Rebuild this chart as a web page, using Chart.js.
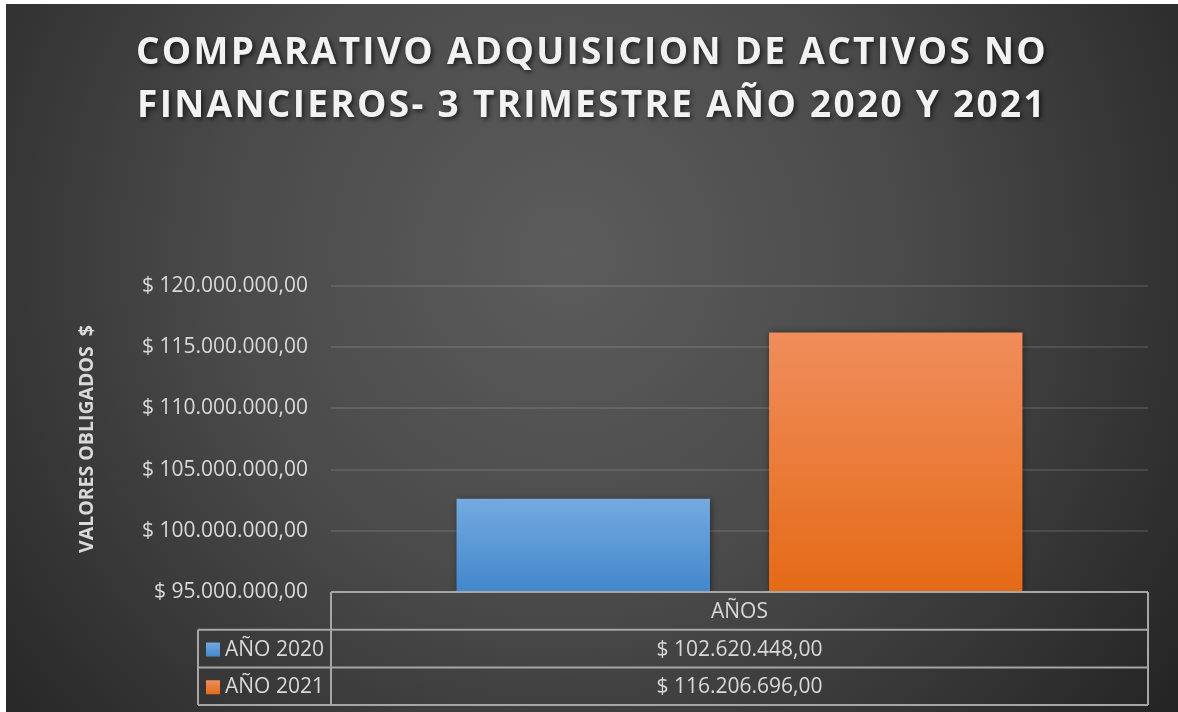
<!DOCTYPE html>
<html><head><meta charset="utf-8">
<script src="https://cdn.jsdelivr.net/npm/chart.js@4.4.0/dist/chart.umd.min.js"></script>
<style>
html,body{margin:0;padding:0;background:#ffffff;}
#wrap{position:absolute;left:6px;top:4px;width:1172px;height:708px;}
</style></head><body>
<div id="wrap"><canvas id="c" width="1172" height="708"></canvas></div>
<script>
const titleLines = ['COMPARATIVO ADQUISICION DE ACTIVOS NO', 'FINANCIEROS- 3 TRIMESTRE AÑO 2020 Y 2021'];
const categories = ['AÑOS'];
const seriesNames = ['AÑO 2020', 'AÑO 2021'];
const values2020 = [102620448];
const values2021 = [116206696];
const yTitle = 'VALORES OBLIGADOS  $';
const yMin = 95000000;
const yMax = 120000000;
const yStep = 5000000;

const FONT = "'Open Sans', sans-serif";

function fmt(n) {
  const parts = n.toFixed(2).split('.');
  const intPart = parts[0].replace(/\B(?=(\d{3})+(?!\d))/g, '.');
  return '$ ' + intPart + ',' + parts[1];
}

const grads = [
  ['#74aae0', '#4287cc'],
  ['#f08d5c', '#e56a16']
];

function barColor(ctx) {
  const chart = ctx.chart;
  const ys = chart.scales.y;
  const dsIndex = ctx.datasetIndex;
  if (!ys || ctx.raw === undefined) return grads[dsIndex][1];
  const top = ys.getPixelForValue(ctx.raw);
  const bottom = ys.getPixelForValue(yMin);
  if (!isFinite(top) || !isFinite(bottom) || top === bottom) return grads[dsIndex][1];
  const g = chart.ctx.createLinearGradient(0, top, 0, bottom);
  g.addColorStop(0, grads[dsIndex][0]);
  g.addColorStop(1, grads[dsIndex][1]);
  return g;
}

const bgPlugin = {
  id: 'bg',
  beforeDraw(chart) {
    const c = chart.ctx;
    const w = chart.width, h = chart.height;
    c.save();
    const g = c.createRadialGradient(560, 250, 0, 560, 250, 760);
    g.addColorStop(0, '#5c5c5c');
    g.addColorStop(0.45, '#4a4a4a');
    g.addColorStop(1, '#242424');
    c.fillStyle = g;
    c.fillRect(0, 0, w, h);
    // title
    c.font = "bold 37px " + FONT;
    c.letterSpacing = '2.3px';
    c.textAlign = 'center';
    c.textBaseline = 'middle';
    c.fillStyle = '#f2f2f2';
    c.shadowColor = 'rgba(0,0,0,0.65)';
    c.shadowBlur = 5;
    c.shadowOffsetX = 2;
    c.shadowOffsetY = 2;
    c.fillText(titleLines[0], w / 2, 49);
    c.fillText(titleLines[1], w / 2, 102);
    c.restore();
  }
};

const shadowPlugin = {
  id: 'barShadow',
  beforeDatasetsDraw(chart) {
    const c = chart.ctx;
    c.save();
    c.shadowColor = 'rgba(0,0,0,0.55)';
    c.shadowBlur = 7;
    c.shadowOffsetX = 1;
    c.shadowOffsetY = 1;
  },
  afterDatasetsDraw(chart) {
    chart.ctx.restore();
  }
};

const tablePlugin = {
  id: 'dataTable',
  afterDraw(chart) {
    const c = chart.ctx;
    const a = chart.chartArea;
    const L = a.left, R = a.right, T = a.bottom;
    const rowH = 37.7;
    const colL = L - 133;
    c.save();
    c.strokeStyle = '#a6a6a6';
    c.lineWidth = 2;
    c.beginPath();
    c.moveTo(L, T); c.lineTo(R, T);
    c.moveTo(L, T); c.lineTo(L, T + rowH * 3);
    c.moveTo(R, T); c.lineTo(R, T + rowH * 3);
    for (let i = 1; i <= 3; i++) {
      c.moveTo(colL, T + rowH * i); c.lineTo(R, T + rowH * i);
    }
    c.moveTo(colL, T + rowH); c.lineTo(colL, T + rowH * 3);
    c.stroke();

    c.fillStyle = '#d9d9d9';
    c.font = "21px " + FONT;
    c.textBaseline = 'middle';
    c.textAlign = 'center';
    const cx = (L + R) / 2;
    c.fillText(categories[0], cx, T + rowH * 0.5 + 1);
    const vals = [values2020, values2021];
    for (let i = 0; i < 2; i++) {
      const y = T + rowH * (i + 1.5) + 1;
      c.textAlign = 'center';
      c.fillStyle = '#d9d9d9';
      c.fillText(fmt(vals[i][0]), cx, y);
      const sq = 14;
      const g = c.createLinearGradient(0, y - sq / 2, 0, y + sq / 2);
      g.addColorStop(0, grads[i][0]);
      g.addColorStop(1, grads[i][1]);
      c.fillStyle = g;
      c.fillRect(colL + 8, y - sq / 2, sq, sq);
      c.fillStyle = '#d9d9d9';
      c.textAlign = 'left';
      c.fillText(seriesNames[i], colL + 27, y);
    }
    c.restore();
  }
};

new Chart(document.getElementById('c'), {
  type: 'bar',
  data: {
    labels: categories,
    datasets: [
      { label: seriesNames[0], data: values2020, backgroundColor: barColor, borderWidth: 0 },
      { label: seriesNames[1], data: values2021, backgroundColor: barColor, borderWidth: 0 }
    ]
  },
  options: {
    responsive: false,
    animation: false,
    devicePixelRatio: 1,
    layout: { padding: { top: 282, right: 30, bottom: 120, left: 0 } },
    categoryPercentage: 0.765,
    barPercentage: 0.811,
    plugins: {
      legend: { display: false },
      title: { display: false },
      tooltip: { enabled: false }
    },
    scales: {
      x: { display: false },
      y: {
        min: yMin,
        max: yMax,
        border: { display: false },
        grid: { color: 'rgba(255,255,255,0.11)', lineWidth: 2, drawTicks: false },
        ticks: {
          stepSize: yStep,
          padding: 23,
          color: '#d9d9d9',
          font: { family: FONT, size: 21 },
          callback: (v) => fmt(v)
        },
        title: {
          display: true,
          text: yTitle,
          color: '#d9d9d9',
          font: { family: FONT, size: 19.5, weight: 'bold' },
          padding: { top: 70, bottom: 0 }
        },
        afterFit(scale) { scale.width = 325; }
      }
    }
  },
  plugins: [bgPlugin, shadowPlugin, tablePlugin]
});
</script>
</body></html>
